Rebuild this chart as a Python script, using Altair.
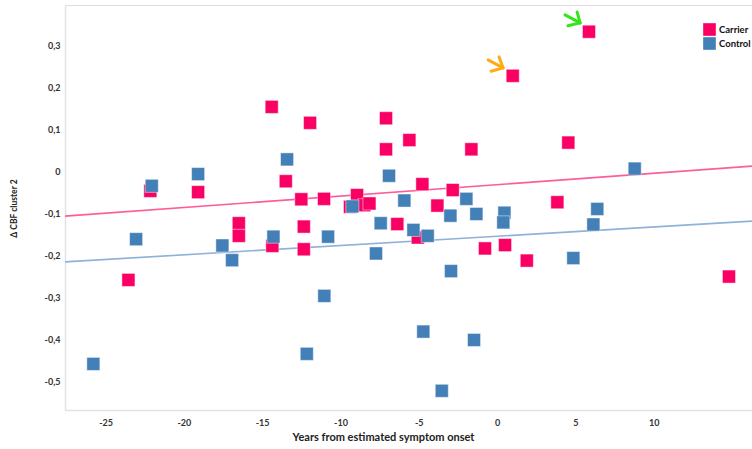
import altair as alt
import pandas as pd

# Carrier group: years from estimated symptom onset vs. change in CBF (cluster 2)
carrier_years = [5.87, 1.00, -14.39, -11.94, -7.09, -5.60, -7.09, -1.64, 4.55,
                 -22.14, -19.09, -13.49, -12.50, -11.05, -8.94, -16.49, -16.49,
                 -14.35, -12.34, -12.34, -23.54, -4.77, -2.83, -9.39, -8.47,
                 -8.15, -3.81, -6.37, -5.06, -0.77, 0.51, 1.90, 3.85, 14.81]
carrier_dcbf = [0.334, 0.229, 0.155, 0.117, 0.128, 0.076, 0.054, 0.054, 0.070,
                -0.045, -0.048, -0.022, -0.065, -0.064, -0.055, -0.122, -0.152,
                -0.176, -0.130, -0.184, -0.257, -0.029, -0.043, -0.083, -0.079,
                -0.075, -0.080, -0.124, -0.156, -0.182, -0.174, -0.211, -0.072,
                -0.249]

# Control group
control_years = [-22.05, -19.09, -23.05, -17.54, -16.92, -14.28, -13.41, -6.90,
                 -5.92, -9.24, -1.96, -1.32, -2.98, -7.43, -5.34, -4.43, -10.79,
                 -7.73, -2.94, -11.03, 8.79, 0.47, 0.40, 6.40, 6.15, 4.87,
                 -25.78, -12.15, -4.71, -1.47, -3.53]
control_dcbf = [-0.033, -0.005, -0.160, -0.175, -0.210, -0.154, 0.030, -0.009,
                -0.068, -0.082, -0.064, -0.100, -0.104, -0.122, -0.138, -0.152,
                -0.154, -0.194, -0.236, -0.295, 0.008, -0.097, -0.120, -0.088,
                -0.125, -0.205, -0.457, -0.433, -0.380, -0.400, -0.521]

# Fitted linear trends, evaluated at the edges of the x range
fit_years = [-27.59, 16.28]
carrier_fit = [-0.105, 0.014]
control_fit = [-0.214, -0.117]

# Annotation arrows (shaft + two head strokes), in data coordinates
green_arrow = {"x": [4.34, 5.30, 5.30], "y": [0.374, 0.355, 0.355],
               "x2": [5.30, 5.11, 4.53], "y2": [0.355, 0.381, 0.348]}
orange_arrow = {"x": [-0.57, 0.38, 0.38], "y": [0.267, 0.248, 0.248],
                "x2": [0.38, 0.13, -0.38], "y2": [0.248, 0.274, 0.240]}

groups = ["Carrier", "Control"]
x_ticks = [-25, -20, -15, -10, -5, 0, 5, 10]
y_ticks = [-0.5, -0.4, -0.3, -0.2, -0.1, 0, 0.1, 0.2, 0.3]
x_domain = [-27.59, 16.28]
y_domain = [-0.5667, 0.3976]

points = pd.DataFrame({
    "years": carrier_years + control_years,
    "dcbf": carrier_dcbf + control_dcbf,
    "group": ["Carrier"] * len(carrier_years) + ["Control"] * len(control_years),
})

FONT = "Lato"

x_scale = alt.Scale(domain=x_domain, nice=False, zero=False)
y_scale = alt.Scale(domain=y_domain, nice=False, zero=False)

x_axis = alt.Axis(
    values=x_ticks, labelExpr="toString(datum.value)",
    title="Years from estimated symptom onset", grid=False, ticks=False,
    domainColor="#e2e2e2", domainWidth=1.5, labelFont=FONT, labelFontWeight="bold",
    labelFontSize=9, labelColor="#333333", labelPadding=8,
    titleFont=FONT, titleFontWeight="bold", titleFontSize=11, titleColor="#222222",
    titleX=318, titleY=27, titleAlign="center", titleBaseline="middle",
)
y_axis = alt.Axis(
    values=y_ticks,
    labelExpr="datum.value == 0 ? '0' : replace(toString(datum.value), '.', ',')",
    title="Δ CBF cluster 2", grid=False, ticks=False,
    domainColor="#e2e2e2", domainWidth=1.5, labelFont=FONT, labelFontWeight="bold",
    labelFontSize=9, labelColor="#333333", labelPadding=5,
    titleFont=FONT, titleFontWeight="bold", titleFontSize=8.5, titleColor="#222222",
    titleX=-52, titleY=203, titleAlign="center", titleBaseline="middle",
)


def trend(values, colour):
    df = pd.DataFrame({"years": fit_years, "dcbf": values})
    return alt.Chart(df).mark_line(color=colour, strokeWidth=1.6).encode(
        x=alt.X("years:Q", scale=x_scale, axis=x_axis),
        y=alt.Y("dcbf:Q", scale=y_scale, axis=y_axis),
    )


def arrow(spec, colour):
    df = pd.DataFrame(spec)
    return alt.Chart(df).mark_rule(color=colour, strokeWidth=3, strokeCap="round").encode(
        x=alt.X("x:Q", scale=x_scale), y=alt.Y("y:Q", scale=y_scale),
        x2="x2:Q", y2="y2:Q",
    )


scatter = alt.Chart(points).mark_square(
    size=170, filled=True, opacity=1, stroke="white", strokeOpacity=0.45, strokeWidth=1
).encode(
    x=alt.X("years:Q", scale=x_scale, axis=x_axis),
    y=alt.Y("dcbf:Q", scale=y_scale, axis=y_axis),
    color=alt.Color(
        "group:N",
        scale=alt.Scale(domain=groups, range=["#fb0064", "#4480b8"]),
        legend=alt.Legend(
            title=None, orient="none", legendX=638, legendY=18,
            symbolType="square", symbolSize=160, symbolStrokeWidth=0,
            labelFont=FONT, labelFontWeight="bold", labelFontSize=9.5,
            labelColor="#111111", labelOffset=3, rowPadding=1, padding=0,
        ),
    ),
)

chart = alt.layer(
    trend(carrier_fit, "#ff5c9c"),
    trend(control_fit, "#8fb2d9"),
    scatter,
    arrow(green_arrow, "#33e61a"),
    arrow(orange_arrow, "#ffaa14"),
).properties(
    width=687, height=405,
    autosize=alt.AutoSizeParams(type="none"),
    padding={"left": 65, "top": 5, "right": 0, "bottom": 39},
).configure_view(stroke=None).configure(background="white")

chart.save("out.html", embed_options={"renderer": "svg", "actions": False})
